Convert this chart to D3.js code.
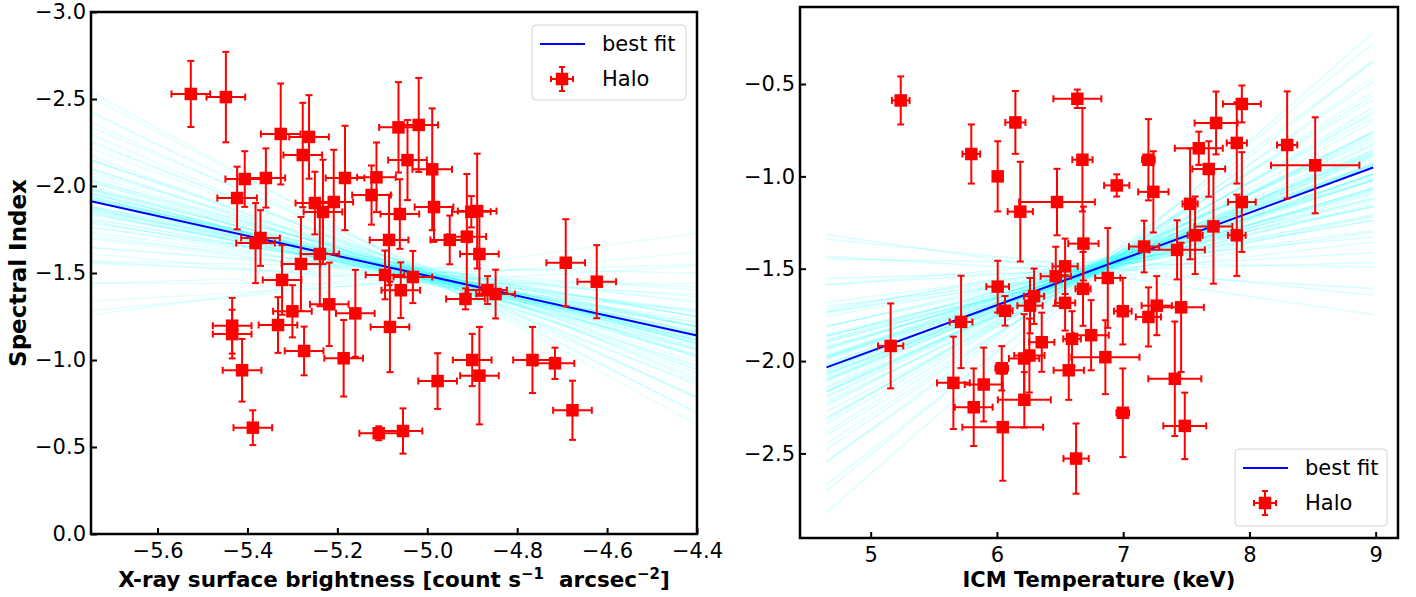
<!DOCTYPE html>
<html>
<head>
<meta charset="utf-8">
<script src="https://cdn.jsdelivr.net/npm/d3@7"></script>
<style>
    body { margin: 0; background: #ffffff; }
    svg text { font-family: "DejaVu Sans", sans-serif; }
</style>
</head>
<body>
<svg id="fig" width="1416" height="597"></svg>
<script>
// ---- left panel: spectral index vs X-ray surface brightness ----
var sbX = [-5.526,-5.448,-5.326,-5.263,-5.277,-5.406,-5.359,-5.423,-5.183,-5.250,
           -5.208,-5.232,-5.382,-5.371,-5.239,-5.281,-5.323,-5.113,-5.064,-5.019,
           -5.124,-5.044,-5.061,-5.085,-5.094,-5.032,-5.059,-5.160,-5.218,-5.300,
           -5.332,-5.434,-5.434,-5.274,-5.186,-5.083,-5.412,-5.388,-5.108,-5.054,
           -4.989,-4.985,-4.950,-4.912,-4.902,-4.889,-4.884,-4.915,-4.866,-4.848,
           -4.692,-4.623,-4.900,-4.884,-4.977,-4.766,-4.716,-4.677];
var sbAlpha = [-2.529,-2.511,-2.299,-2.282,-2.178,-2.040,-2.046,-1.931,-2.046,-1.902,
               -1.908,-1.851,-1.672,-1.701,-1.609,-1.552,-1.460,-2.050,-2.337,-2.351,
               -1.948,-2.149,-1.839,-1.690,-1.489,-1.477,-1.401,-1.268,-1.320,-1.280,
               -1.201,-1.197,-1.149,-1.052,-1.010,-1.190,-0.941,-0.611,-0.579,-0.592,
               -2.096,-1.879,-1.690,-1.709,-1.852,-1.856,-1.609,-1.351,-1.402,-1.379,
               -1.559,-1.450,-1.000,-0.910,-0.879,-1.000,-0.981,-0.711];
var sbAlphaErr = [0.19,0.26,0.29,0.24,0.30,0.16,0.17,0.18,0.30,0.18,
                  0.30,0.30,0.23,0.16,0.30,0.27,0.20,0.20,0.26,0.27,
                  0.17,0.23,0.20,0.26,0.14,0.15,0.16,0.25,0.24,0.15,
                  0.16,0.16,0.14,0.14,0.22,0.26,0.18,0.10,0.04,0.13,
                  0.35,0.20,0.14,0.36,0.09,0.33,0.24,0.06,0.08,0.14,
                  0.25,0.21,0.15,0.28,0.16,0.19,0.09,0.17];
var sbXErr = [0.043,0.043,0.044,0.044,0.043,0.043,0.043,0.044,0.043,0.043,
              0.043,0.043,0.043,0.043,0.043,0.043,0.043,0.043,0.043,0.043,
              0.043,0.043,0.043,0.043,0.043,0.043,0.043,0.043,0.043,0.043,
              0.043,0.043,0.043,0.043,0.043,0.043,0.043,0.043,0.043,0.043,
              0.044,0.043,0.043,0.043,0.043,0.043,0.043,0.043,0.043,0.043,
              0.043,0.043,0.043,0.043,0.043,0.043,0.043,0.043];
var sbFit = [0.573, 1.381];          // slope, intercept
var sbSpan = [-5.748, -4.4];
// posterior draws: slope and value at x = -5.0
var sbDrawSlope = [-0.35,-0.25,-0.15,-0.08,0.00,0.05,0.10,0.14,0.18,0.21,
                   0.24,0.27,0.30,0.32,0.34,0.36,0.38,0.40,0.41,0.43,
                   0.44,0.46,0.47,0.48,0.50,0.51,0.52,0.53,0.54,0.55,
                   0.56,0.57,0.58,0.59,0.60,0.61,0.62,0.63,0.64,0.65,
                   0.66,0.67,0.68,0.69,0.70,0.72,0.73,0.75,0.76,0.78,
                   0.80,0.82,0.84,0.86,0.88,0.91,0.94,0.97,1.00,1.04,
                   1.08,1.12,1.17,1.22,1.28,1.35,1.42,0.45,0.55,0.62,
                   0.50,0.58,0.66,0.70,0.48,0.60,0.53,0.57,0.64,0.59];
var sbDrawMid = [-1.52,-1.47,-1.45,-1.50,-1.44,-1.53,-1.48,-1.46,-1.51,-1.49,
                 -1.43,-1.50,-1.47,-1.52,-1.48,-1.45,-1.50,-1.49,-1.46,-1.51,
                 -1.48,-1.47,-1.53,-1.44,-1.49,-1.50,-1.46,-1.48,-1.52,-1.47,
                 -1.45,-1.50,-1.49,-1.54,-1.46,-1.48,-1.51,-1.44,-1.50,-1.47,
                 -1.49,-1.46,-1.51,-1.48,-1.45,-1.50,-1.53,-1.47,-1.49,-1.44,
                 -1.50,-1.48,-1.52,-1.46,-1.49,-1.47,-1.51,-1.45,-1.50,-1.48,
                 -1.53,-1.46,-1.49,-1.51,-1.47,-1.50,-1.48,-1.52,-1.46,-1.49,
                 -1.47,-1.50,-1.45,-1.51,-1.48,-1.49,-1.46,-1.50,-1.48,-1.47];
var sbXTicks = [-5.6,-5.4,-5.2,-5.0,-4.8,-4.6,-4.4];
var sbYTicks = [0.0,-0.5,-1.0,-1.5,-2.0,-2.5,-3.0];

// ---- right panel: spectral index vs ICM temperature ----
var kT = [5.238,6.146,5.797,6.006,6.185,6.476,5.158,5.716,6.006,6.064,
          6.262,6.294,6.466,6.540,6.540,6.355,6.215,6.257,6.038,5.655,
          5.895,5.816,6.217,6.046,6.627,6.637,6.677,6.949,7.200,7.239,
          6.685,7.166,7.427,7.530,7.570,7.715,7.599,7.678,7.736,7.940,
          7.900,7.940,7.900,8.299,8.521,6.682,6.878,6.997,7.266,7.200,
          7.459,6.595,6.746,6.859,6.569,6.997,7.409,7.488];
var kTAlpha = [-0.589,-0.708,-0.879,-1.000,-1.191,-1.139,-1.918,-1.788,-1.597,-1.728,
               -1.700,-1.649,-1.541,-1.487,-1.685,-1.898,-1.986,-1.970,-2.039,-2.118,
               -2.127,-2.250,-2.210,-2.358,-2.528,-0.580,-0.910,-1.049,-0.910,-1.084,
               -1.364,-1.380,-1.398,-1.149,-1.319,-1.271,-0.848,-0.960,-0.711,-0.608,
               -0.819,-1.139,-1.319,-0.830,-0.940,-1.609,-1.550,-1.730,-1.700,-1.761,
               -1.709,-1.880,-1.860,-1.979,-2.050,-2.280,-2.096,-2.351];
var kTAlphaErr = [0.13,0.17,0.16,0.19,0.27,0.18,0.23,0.25,0.14,0.08,
                  0.15,0.15,0.16,0.15,0.15,0.16,0.24,0.20,0.12,0.25,
                  0.20,0.21,0.15,0.29,0.19,0.05,0.28,0.06,0.22,0.22,
                  0.20,0.14,0.16,0.30,0.21,0.31,0.09,0.15,0.17,0.10,
                  0.22,0.27,0.22,0.29,0.26,0.20,0.27,0.18,0.16,0.16,
                  0.35,0.15,0.19,0.20,0.16,0.24,0.31,0.18];
var kTErr = [0.07,0.08,0.07,0.03,0.10,0.30,0.10,0.09,0.09,0.06,
             0.10,0.08,0.12,0.10,0.08,0.10,0.12,0.12,0.05,0.13,
             0.15,0.15,0.21,0.32,0.10,0.19,0.08,0.10,0.05,0.12,
             0.12,0.12,0.22,0.06,0.06,0.15,0.19,0.13,0.17,0.15,
             0.08,0.11,0.07,0.08,0.35,0.06,0.10,0.07,0.12,0.10,
             0.18,0.07,0.14,0.27,0.12,0.05,0.21,0.17];
var kTFit = [0.25, -3.197];
var kTSpan = [4.65, 8.98];
// posterior draws: slope and value at kT = 6.8
var kTDrawSlope = [-0.10,-0.07,-0.04,-0.01,0.02,0.04,0.06,0.08,0.09,0.10,
                   0.11,0.12,0.13,0.14,0.15,0.15,0.16,0.17,0.17,0.18,
                   0.19,0.19,0.20,0.20,0.21,0.21,0.22,0.22,0.23,0.23,
                   0.24,0.24,0.25,0.25,0.25,0.26,0.26,0.27,0.27,0.28,
                   0.28,0.29,0.29,0.30,0.30,0.31,0.31,0.32,0.33,0.33,
                   0.34,0.35,0.36,0.37,0.38,0.39,0.40,0.41,0.42,0.44,
                   0.46,0.48,0.50,0.53,0.56,0.60,0.12,0.18,0.22,0.26,
                   0.30,0.24,0.20,0.28,0.16,0.32,0.23,0.27,0.21,0.25];
var kTDrawMid = [-1.53,-1.49,-1.52,-1.47,-1.51,-1.50,-1.46,-1.53,-1.49,-1.52,
                 -1.48,-1.50,-1.45,-1.51,-1.49,-1.54,-1.47,-1.50,-1.52,-1.48,
                 -1.49,-1.51,-1.46,-1.50,-1.53,-1.48,-1.50,-1.47,-1.52,-1.49,
                 -1.51,-1.46,-1.50,-1.48,-1.53,-1.49,-1.51,-1.52,-1.47,-1.50,
                 -1.48,-1.52,-1.49,-1.46,-1.51,-1.50,-1.47,-1.53,-1.49,-1.48,
                 -1.50,-1.52,-1.47,-1.51,-1.49,-1.50,-1.46,-1.52,-1.48,-1.50,
                 -1.49,-1.51,-1.47,-1.53,-1.50,-1.53,-1.48,-1.51,-1.49,-1.50,
                 -1.52,-1.47,-1.50,-1.49,-1.51,-1.48,-1.50,-1.49,-1.52,-1.50];
var kTXTicks = [5, 6, 7, 8, 9];
var kTYTicks = [-0.5, -1.0, -1.5, -2.0, -2.5];

var svg = d3.select("#fig");
var fmt1 = d3.format(".1f");

function drawPanel(p) {
    var x = d3.scaleLinear().domain(p.xDomain).range([p.box[0], p.box[1]]);
    var y = d3.scaleLinear().domain(p.yDomain).range([p.box[3], p.box[2]]);
    var g = svg.append("g");

    svg.append("clipPath").attr("id", "clip-" + p.name)
        .append("rect")
        .attr("x", p.box[0]).attr("y", p.box[2])
        .attr("width", p.box[1] - p.box[0])
        .attr("height", p.box[3] - p.box[2]);

    var plot = g.append("g").attr("clip-path", "url(#clip-" + p.name + ")");

    // cyan fan of posterior lines
    plot.append("g").selectAll("line")
        .data(p.drawSlope)
        .join("line")
        .attr("x1", x(p.span[0]))
        .attr("x2", x(p.span[1]))
        .attr("y1", function(b, i) { return y(p.drawMid[i] + b * (p.span[0] - p.midX)); })
        .attr("y2", function(b, i) { return y(p.drawMid[i] + b * (p.span[1] - p.midX)); })
        .attr("stroke", "#00ffff")
        .attr("stroke-opacity", p.drawAlpha)
        .attr("stroke-width", 1.3);

    plot.append("line")
        .attr("x1", x(p.span[0]))
        .attr("x2", x(p.span[1]))
        .attr("y1", y(p.fit[0] * p.span[0] + p.fit[1]))
        .attr("y2", y(p.fit[0] * p.span[1] + p.fit[1]))
        .attr("stroke", "#0000ff")
        .attr("stroke-width", 2);

    var pts = p.xs.map(function(v, i) {
        return {x: v, y: p.ys[i], xe: p.xErr[i], ye: p.yErr[i]};
    });

    // error bars, then caps, then the square markers (matplotlib order)
    var eb = plot.append("g").attr("stroke", "#ff0000").attr("stroke-width", 2);
    eb.selectAll("line.v").data(pts).join("line").attr("class", "v")
        .attr("x1", function(d) { return x(d.x); })
        .attr("x2", function(d) { return x(d.x); })
        .attr("y1", function(d) { return y(d.y - d.ye); })
        .attr("y2", function(d) { return y(d.y + d.ye); });
    eb.selectAll("line.h").data(pts).join("line").attr("class", "h")
        .attr("x1", function(d) { return x(d.x - d.xe); })
        .attr("x2", function(d) { return x(d.x + d.xe); })
        .attr("y1", function(d) { return y(d.y); })
        .attr("y2", function(d) { return y(d.y); });
    var cap = 3.5;
    pts.forEach(function(d) {
        [d.y - d.ye, d.y + d.ye].forEach(function(v) {
            eb.append("line")
                .attr("x1", x(d.x) - cap).attr("x2", x(d.x) + cap)
                .attr("y1", y(v)).attr("y2", y(v));
        });
        [d.x - d.xe, d.x + d.xe].forEach(function(v) {
            eb.append("line")
                .attr("x1", x(v)).attr("x2", x(v))
                .attr("y1", y(d.y) - cap).attr("y2", y(d.y) + cap);
        });
    });
    var ms = 12.5;
    plot.append("g").selectAll("rect")
        .data(pts)
        .join("rect")
        .attr("x", function(d) { return x(d.x) - ms / 2; })
        .attr("y", function(d) { return y(d.y) - ms / 2; })
        .attr("width", ms)
        .attr("height", ms)
        .attr("fill", "#ff0000");

    // axes, ticks pointing inward
    var xa = g.append("g")
        .attr("transform", "translate(0," + p.box[3] + ")")
        .call(d3.axisBottom(x).tickValues(p.xTicks).tickFormat(p.xFormat)
            .tickSize(-6).tickPadding(9));
    var ya = g.append("g")
        .attr("transform", "translate(" + p.box[0] + ",0)")
        .call(d3.axisLeft(y).tickValues(p.yTicks).tickFormat(fmt1)
            .tickSize(-6).tickPadding(5));
    [xa, ya].forEach(function(a) {
        a.select(".domain").remove();
        a.attr("font-family", null).attr("font-size", null);
        a.selectAll(".tick line").attr("stroke", "#000").attr("stroke-width", 2);
        a.selectAll(".tick text")
            .attr("fill", "#000")
            .style("font-size", "21px")
            .style("font-family", "'DejaVu Sans', sans-serif");
    });

    g.append("rect")
        .attr("x", p.box[0]).attr("y", p.box[2])
        .attr("width", p.box[1] - p.box[0])
        .attr("height", p.box[3] - p.box[2])
        .attr("fill", "none")
        .attr("stroke", "#000")
        .attr("stroke-width", 2.5);

    // legend
    var L = p.legend;
    var lg = g.append("g").attr("transform", "translate(" + L[0] + "," + L[1] + ")");
    lg.append("rect")
        .attr("width", L[2]).attr("height", L[3])
        .attr("rx", 4)
        .attr("fill", "#ffffff").attr("fill-opacity", 0.8)
        .attr("stroke", "#d4d4d4").attr("stroke-width", 1);
    lg.append("line")
        .attr("x1", 8).attr("x2", 53)
        .attr("y1", 19).attr("y2", 19)
        .attr("stroke", "#0000ff").attr("stroke-width", 2);
    var hx = 30, hy = 54;
    lg.append("line").attr("x1", hx - 11).attr("x2", hx + 11).attr("y1", hy).attr("y2", hy)
        .attr("stroke", "#ff0000").attr("stroke-width", 2);
    lg.append("line").attr("x1", hx).attr("x2", hx).attr("y1", hy - 12).attr("y2", hy + 12)
        .attr("stroke", "#ff0000").attr("stroke-width", 2);
    [[hx - 11, hy, 0], [hx + 11, hy, 0], [hx, hy - 12, 1], [hx, hy + 12, 1]].forEach(function(c) {
        lg.append("line")
            .attr("x1", c[2] ? c[0] - 3 : c[0]).attr("x2", c[2] ? c[0] + 3 : c[0])
            .attr("y1", c[2] ? c[1] : c[1] - 3).attr("y2", c[2] ? c[1] : c[1] + 3)
            .attr("stroke", "#ff0000").attr("stroke-width", 2);
    });
    lg.append("rect").attr("x", hx - ms / 2).attr("y", hy - ms / 2)
        .attr("width", ms).attr("height", ms).attr("fill", "#ff0000");
    lg.append("text").attr("x", 70).attr("y", 19).attr("dy", "0.35em")
        .style("font-size", "21px").text("best fit");
    lg.append("text").attr("x", 70).attr("y", hy).attr("dy", "0.35em")
        .style("font-size", "21px").text("Halo");

    return g;
}

var left = drawPanel({
    name: "sb", box: [91, 697, 12, 534],
    xDomain: [-5.748, -4.4], yDomain: [0, -3],
    xs: sbX, ys: sbAlpha, xErr: sbXErr, yErr: sbAlphaErr,
    fit: sbFit, span: sbSpan, midX: -5.0,
    drawSlope: sbDrawSlope, drawMid: sbDrawMid, drawAlpha: 0.13,
    xTicks: sbXTicks, yTicks: sbYTicks, xFormat: fmt1,
    legend: [532, 25, 154, 75]
});

var right = drawPanel({
    name: "kt", box: [800, 1398, 7, 538],
    xDomain: [4.44, 9.177], yDomain: [-2.958, -0.083],
    xs: kT, ys: kTAlpha, xErr: kTErr, yErr: kTAlphaErr,
    fit: kTFit, span: kTSpan, midX: 6.8,
    drawSlope: kTDrawSlope, drawMid: kTDrawMid, drawAlpha: 0.17,
    xTicks: kTXTicks, yTicks: kTYTicks, xFormat: d3.format("d"),
    legend: [1235, 449, 152, 77]
});

// axis titles
svg.append("text")
    .attr("transform", "translate(26,273) rotate(-90)")
    .attr("text-anchor", "middle")
    .style("font-size", "23px").style("font-weight", "bold")
    .text("Spectral Index");

var xt = svg.append("text")
    .attr("x", 394).attr("y", 587)
    .attr("text-anchor", "middle")
    .style("font-size", "21.5px").style("font-weight", "bold");
xt.append("tspan").text("X-ray surface brightness [count s");
xt.append("tspan").attr("dy", -8).style("font-size", "15px").text("\u22121");
xt.append("tspan").attr("dy", 8).text("\u00a0\u00a0arcsec");
xt.append("tspan").attr("dy", -8).style("font-size", "15px").text("\u22122");
xt.append("tspan").attr("dy", 8).text("]");

svg.append("text")
    .attr("x", 1099).attr("y", 587)
    .attr("text-anchor", "middle")
    .style("font-size", "21px").style("font-weight", "bold")
    .text("ICM Temperature (keV)");
</script>
</body>
</html>
